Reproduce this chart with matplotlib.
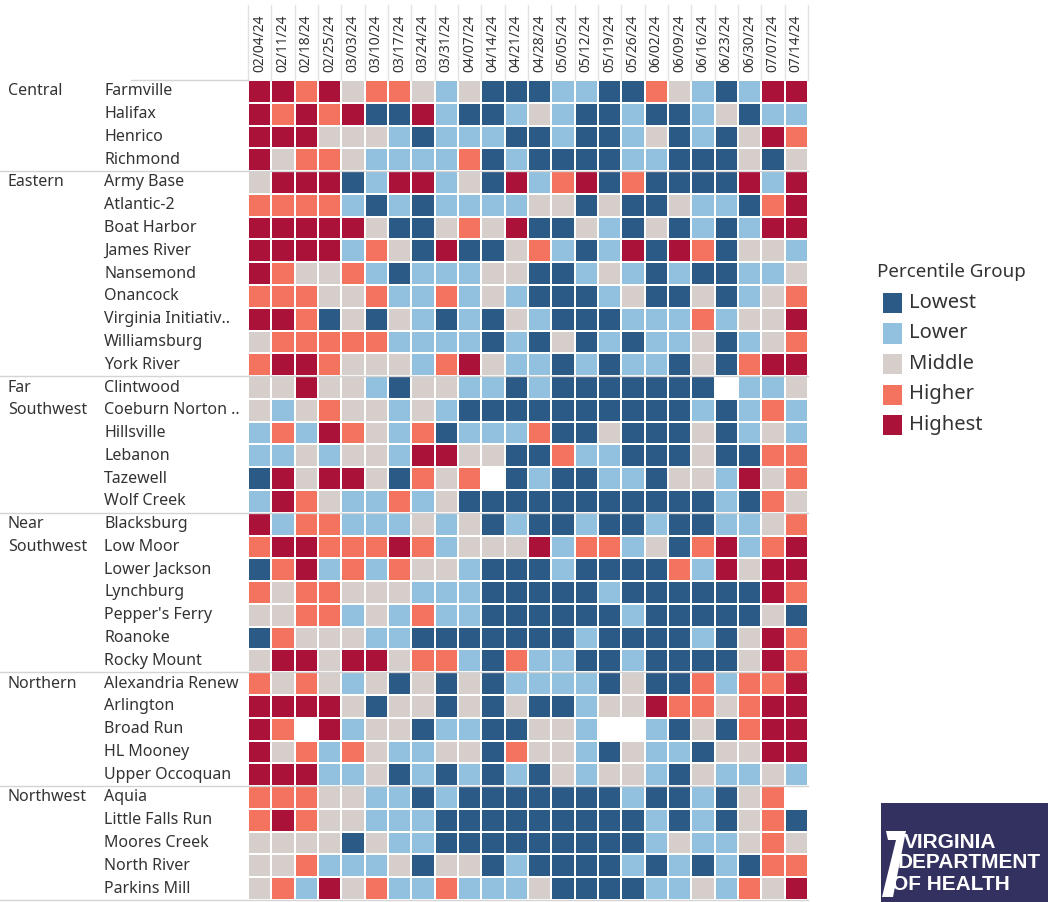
import matplotlib
matplotlib.use("Agg")
import matplotlib.pyplot as plt
import numpy as np
from matplotlib.colors import ListedColormap, BoundaryNorm
from matplotlib.patches import Rectangle, Polygon

plt.rcParams["font.family"] = ["Noto Sans", "DejaVu Sans"]

dates = ["02/04/24", "02/11/24", "02/18/24", "02/25/24", "03/03/24", "03/10/24",
         "03/17/24", "03/24/24", "03/31/24", "04/07/24", "04/14/24", "04/21/24",
         "04/28/24", "05/05/24", "05/12/24", "05/19/24", "05/26/24", "06/02/24",
         "06/09/24", "06/16/24", "06/23/24", "06/30/24", "07/07/24", "07/14/24"]

regions = [("Central", 0, 4), ("Eastern", 4, 13), ("Far\nSouthwest", 13, 19),
           ("Near\nSouthwest", 19, 26), ("Northern", 26, 31), ("Northwest", 31, 36)]

sites = ["Farmville", "Halifax", "Henrico", "Richmond",
         "Army Base", "Atlantic-2", "Boat Harbor", "James River", "Nansemond",
         "Onancock", "Virginia Initiativ..", "Williamsburg", "York River",
         "Clintwood", "Coeburn Norton ..", "Hillsville", "Lebanon", "Tazewell",
         "Wolf Creek",
         "Blacksburg", "Low Moor", "Lower Jackson", "Lynchburg", "Pepper's Ferry",
         "Roanoke", "Rocky Mount",
         "Alexandria Renew", "Arlington", "Broad Run", "HL Mooney", "Upper Occoquan",
         "Aquia", "Little Falls Run", "Moores Creek", "North River", "Parkins Mill"]

group_names = ["Lowest", "Lower", "Middle", "Higher", "Highest"]

# percentile group per site and week: 1=Lowest .. 5=Highest, 0=no data
groups = [
    [5, 5, 4, 5, 3, 4, 4, 3, 2, 3, 1, 1, 1, 2, 2, 1, 1, 4, 3, 2, 1, 2, 5, 5],
    [5, 4, 5, 4, 5, 1, 1, 5, 2, 1, 1, 2, 3, 2, 1, 1, 2, 1, 1, 2, 3, 1, 2, 2],
    [5, 5, 5, 3, 3, 3, 2, 1, 2, 2, 2, 1, 1, 2, 1, 1, 2, 3, 1, 2, 1, 3, 5, 4],
    [5, 3, 4, 4, 3, 2, 2, 2, 2, 4, 1, 2, 1, 1, 1, 1, 2, 2, 1, 1, 1, 3, 1, 3],
    [3, 5, 5, 5, 1, 2, 5, 5, 2, 3, 1, 5, 2, 4, 5, 1, 4, 1, 1, 1, 1, 5, 2, 5],
    [4, 4, 4, 4, 2, 1, 2, 1, 2, 2, 2, 2, 3, 3, 1, 3, 1, 1, 3, 2, 2, 1, 4, 5],
    [5, 5, 5, 5, 5, 3, 1, 1, 3, 4, 3, 5, 1, 1, 3, 2, 1, 3, 1, 2, 1, 2, 5, 5],
    [5, 5, 5, 5, 2, 4, 3, 1, 5, 1, 1, 3, 4, 2, 1, 2, 5, 1, 5, 4, 1, 3, 3, 2],
    [5, 4, 3, 3, 4, 2, 1, 2, 2, 2, 3, 3, 1, 1, 2, 3, 2, 1, 2, 1, 1, 2, 2, 3],
    [4, 4, 4, 3, 3, 4, 2, 2, 4, 2, 3, 2, 1, 1, 1, 2, 3, 1, 1, 3, 1, 2, 3, 4],
    [5, 5, 4, 1, 3, 1, 3, 2, 1, 2, 1, 3, 2, 1, 1, 1, 2, 2, 2, 4, 2, 3, 3, 5],
    [3, 4, 4, 4, 4, 4, 2, 2, 2, 2, 1, 2, 1, 3, 1, 2, 1, 2, 2, 3, 1, 2, 3, 4],
    [4, 5, 5, 4, 3, 3, 3, 2, 4, 5, 3, 2, 2, 1, 2, 1, 2, 2, 1, 3, 1, 4, 5, 5],
    [3, 3, 5, 3, 3, 2, 1, 3, 3, 2, 2, 1, 2, 1, 1, 1, 1, 1, 1, 1, 0, 2, 2, 3],
    [3, 2, 3, 4, 3, 3, 2, 3, 2, 1, 1, 1, 1, 1, 1, 1, 1, 1, 1, 2, 1, 2, 4, 2],
    [2, 4, 2, 5, 4, 3, 2, 4, 1, 2, 2, 2, 4, 1, 1, 3, 1, 1, 1, 3, 1, 2, 3, 2],
    [2, 2, 3, 2, 3, 3, 2, 5, 5, 3, 3, 1, 1, 4, 2, 2, 1, 1, 1, 3, 1, 1, 4, 4],
    [1, 5, 3, 5, 5, 3, 1, 4, 3, 4, 0, 1, 2, 1, 1, 2, 2, 1, 3, 3, 2, 5, 3, 4],
    [2, 5, 4, 3, 2, 2, 4, 2, 3, 1, 1, 1, 1, 1, 1, 1, 1, 1, 1, 1, 2, 1, 4, 3],
    [5, 2, 4, 4, 2, 2, 2, 3, 2, 3, 1, 2, 1, 1, 2, 1, 1, 2, 1, 1, 2, 2, 3, 4],
    [4, 5, 5, 4, 4, 4, 5, 4, 2, 3, 3, 3, 5, 2, 4, 4, 2, 3, 1, 4, 5, 2, 4, 5],
    [1, 4, 5, 2, 4, 2, 4, 3, 3, 2, 1, 1, 1, 2, 1, 1, 1, 1, 4, 2, 5, 3, 5, 5],
    [4, 3, 4, 4, 3, 3, 3, 2, 2, 2, 1, 1, 1, 1, 1, 2, 1, 1, 1, 1, 1, 1, 5, 4],
    [3, 3, 4, 4, 2, 3, 2, 4, 2, 2, 1, 1, 1, 1, 1, 1, 2, 1, 1, 1, 1, 1, 3, 1],
    [1, 4, 3, 3, 3, 2, 2, 1, 1, 1, 1, 1, 1, 1, 2, 1, 1, 1, 1, 2, 1, 3, 5, 4],
    [3, 5, 5, 3, 5, 5, 3, 4, 4, 2, 1, 4, 2, 2, 1, 1, 2, 1, 1, 1, 1, 3, 5, 4],
    [4, 3, 4, 3, 2, 3, 1, 3, 1, 3, 1, 2, 2, 2, 2, 1, 3, 1, 1, 4, 2, 4, 4, 5],
    [5, 5, 5, 5, 3, 1, 3, 3, 1, 3, 1, 3, 1, 1, 2, 3, 3, 5, 4, 4, 3, 4, 5, 5],
    [5, 4, 0, 5, 2, 3, 3, 1, 2, 2, 1, 1, 3, 3, 2, 0, 0, 2, 1, 3, 1, 4, 5, 5],
    [5, 3, 4, 2, 4, 3, 2, 2, 3, 3, 1, 4, 3, 3, 2, 1, 3, 2, 2, 1, 3, 3, 5, 5],
    [5, 5, 5, 2, 2, 3, 1, 2, 1, 2, 1, 2, 1, 3, 2, 3, 3, 2, 1, 3, 2, 2, 3, 2],
    [4, 4, 4, 3, 3, 2, 2, 1, 2, 1, 1, 1, 1, 1, 1, 1, 2, 1, 1, 2, 1, 3, 4, 0],
    [4, 5, 4, 3, 3, 2, 2, 2, 1, 1, 1, 1, 1, 1, 1, 1, 1, 2, 1, 2, 1, 3, 4, 1],
    [3, 3, 3, 3, 1, 3, 2, 2, 1, 1, 1, 1, 1, 1, 1, 1, 1, 2, 3, 2, 2, 3, 4, 3],
    [3, 3, 4, 2, 2, 2, 3, 1, 3, 3, 1, 2, 1, 1, 1, 1, 2, 1, 2, 1, 2, 1, 4, 4],
    [3, 4, 2, 5, 3, 4, 2, 2, 4, 2, 2, 2, 3, 1, 1, 1, 1, 2, 2, 3, 2, 4, 3, 5],
]

COLORS = ["#2c5a87", "#92c0df", "#d5cecb", "#f4735e", "#ab1239"]
TEXT = "#333333"
RULE = "#d4d4d4"

W, H = 1048, 902
fig = plt.figure(figsize=(W / 100, H / 100), dpi=100)
fig.patch.set_facecolor("white")


def fx(px):
    return px / W


def fy(py):
    return 1 - py / H


ax = fig.add_axes([fx(248), fy(900), fx(808) - fx(248), fy(80) - fy(900)])
data = np.array(groups)
cmap = ListedColormap(["white"] + COLORS)
norm = BoundaryNorm(np.arange(-0.5, 6.5, 1), cmap.N)
ax.pcolormesh(np.arange(len(dates) + 1), np.arange(len(sites) + 1), data,
              cmap=cmap, norm=norm, edgecolors="white", linewidth=1.2)
ax.set_xlim(0, len(dates))
ax.set_ylim(len(sites), 0)
ax.axis("off")

# column headers
for j, d in enumerate(dates):
    ax.text(j + 0.5, -0.35, d, rotation=90, ha="center", va="bottom",
            fontsize=10, color=TEXT, clip_on=False)
for j in range(len(dates) + 1):
    ax.plot([j, j], [0, -3.3], color="#e2e2e2", lw=1, clip_on=False)
ax.plot([-5.0, 0], [0, 0], color=RULE, lw=1, clip_on=False)

# row labels
for i, s in enumerate(sites):
    ax.text(-6.17, i + 0.5, s, ha="left", va="center", fontsize=11.5,
            color=TEXT, clip_on=False)
for name, start, end in regions:
    for k, part in enumerate(name.split("\n")):
        ax.text(-10.3, start + k + 0.5, part, ha="left", va="center",
                fontsize=11.5, color=TEXT, clip_on=False)
    ax.plot([-10.65, len(dates)], [end, end], color=RULE, lw=1, clip_on=False)

# legend
fig.text(fx(877), fy(272), "Percentile Group", fontsize=13.5, fontweight="semibold",
         color=TEXT, ha="left", va="center")
for k, (name, c) in enumerate(zip(group_names, COLORS)):
    yc = 303 + k * 30.5
    fig.patches.append(Rectangle((fx(883), fy(yc + 10)), fx(19), fy(yc - 10) - fy(yc + 10),
                                 transform=fig.transFigure, facecolor=c, edgecolor="none"))
    fig.text(fx(909), fy(yc), name, fontsize=14.5, color=TEXT, ha="left", va="center")

# VDH logo block
fig.patches.append(Rectangle((fx(881), 0), 1 - fx(881), fy(803), transform=fig.transFigure,
                             facecolor="#33315f", edgecolor="none"))
seven = [(886, 831), (906, 831), (893, 897), (882, 897), (896, 840), (888, 840)]
fig.patches.append(Polygon([(fx(x), fy(y)) for x, y in seven], closed=True,
                           transform=fig.transFigure, facecolor="white", edgecolor="none"))
for txt, x0, y0 in [("VIRGINIA", 904, 842), ("DEPARTMENT", 898, 863), ("OF HEALTH", 892, 885)]:
    fig.text(fx(x0), fy(y0), txt, fontsize=15, fontweight="bold", color="white",
             family="Liberation Sans", ha="left", va="center")

fig.savefig("out.png", dpi=100, facecolor="white")
